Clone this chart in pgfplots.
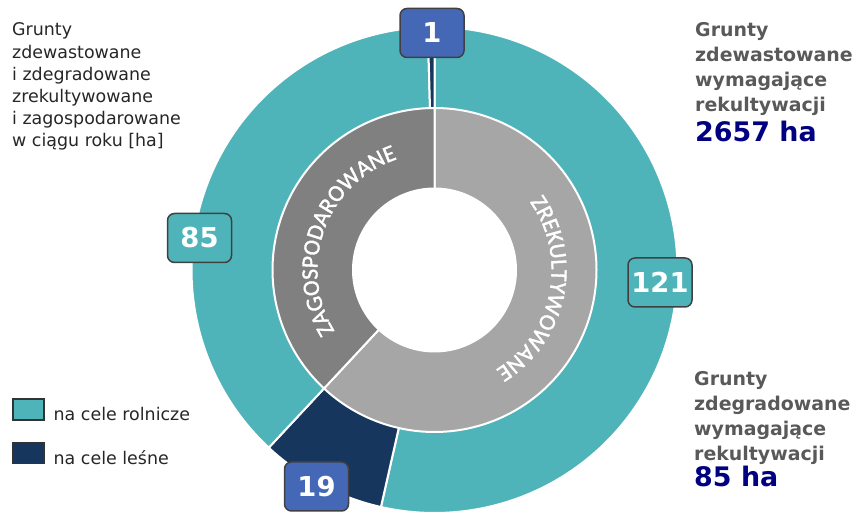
\documentclass[border=0pt]{standalone}
\usepackage{pgfplots}
\pgfplotsset{compat=1.18}
\usepackage{pgfplotstable}
\usepackage{fontspec}
\setmainfont{DejaVu Sans}
\newfontfamily\curvefont[LetterSpace=4, FakeBold=1.5]{Carlito}
\usetikzlibrary{decorations.text}
\definecolor{cteal}{HTML}{4FB4B9}
\definecolor{cnavy}{HTML}{17365D}
\definecolor{clight}{HTML}{A6A6A6}
\definecolor{cdark}{HTML}{808080}
\definecolor{cbox}{HTML}{4468B6}
\definecolor{ctxt}{HTML}{595959}
\definecolor{cnum}{HTML}{000080}
\definecolor{cleft}{HTML}{262626}

\pgfplotstableread{
segment value
rolnicze 121
lesne 19
rolnicze 85
lesne 1
}\outerdata
\pgfplotstableread{
segment value
zrekultywowane 140
zagospodarowane 86
}\innerdata

\begin{document}
\begin{tikzpicture}
\pgfplotstablegetelem{0}{value}\of\outerdata \let\oA\pgfplotsretval
\pgfplotstablegetelem{1}{value}\of\outerdata \let\oB\pgfplotsretval
\pgfplotstablegetelem{2}{value}\of\outerdata \let\oC\pgfplotsretval
\pgfplotstablegetelem{3}{value}\of\outerdata \let\oD\pgfplotsretval
\pgfplotstablegetelem{0}{value}\of\innerdata \let\iA\pgfplotsretval
\pgfplotstablegetelem{1}{value}\of\innerdata \let\iB\pgfplotsretval
\pgfmathsetmacro\otot{\oA+\oB+\oC+\oD}
\pgfmathsetmacro\eA{360*(\oA/\otot)}
\pgfmathsetmacro\eB{360*((\oA+\oB)/\otot)}
\pgfmathsetmacro\eC{360*((\oA+\oB+\oC)/\otot)}
\pgfmathsetmacro\itot{\iA+\iB}
\pgfmathsetmacro\fA{360*(\iA/\itot)}
\tikzset{valbox/.style={draw=black!75, line width=1.5bp, rounded corners=7bp,
  minimum width=64bp, minimum height=49bp, inner sep=0pt, text=white,
  font=\bfseries\fontsize{27.5}{27.5}\selectfont},
  lt/.style={anchor=base west, inner sep=0pt, text=cleft, font=\fontsize{17.5}{21}\selectfont},
  rt/.style={anchor=base west, inner sep=0pt, text=ctxt, font=\bfseries\fontsize{19}{21}\selectfont},
  rn/.style={anchor=base west, inner sep=0pt, text=cnum, font=\bfseries\fontsize{27}{27}\selectfont}}
\begin{axis}[width=862bp, height=514bp, scale only axis, hide axis,
  xmin=-434.5, xmax=427.5, ymin=-244, ymax=270, clip=false,
  legend image code/.code={\draw[#1, draw=black!80, line width=1.5bp] (0bp,-5.5bp) rectangle (31bp,15.5bp);},
  legend style={at={(axis cs:-422.5,-128)}, anchor=north west, draw=none, fill=none,
    inner sep=0pt, row sep=18bp, font=\fontsize{17.5}{21}\selectfont, text=cleft,
    /tikz/every odd column/.append style={column sep=7bp}},
  legend cell align=left]
% outer ring
\addplot[forget plot, fill=cteal, draw=white, line width=2bp, domain=0:\eA, samples=150]
  ({243*sin(x)},{243*cos(x)}) -- (axis cs:0,0) -- cycle;
\addplot[forget plot, fill=cnavy, draw=white, line width=2bp, domain=\eA:\eB, samples=40]
  ({243*sin(x)},{243*cos(x)}) -- (axis cs:0,0) -- cycle;
\addplot[forget plot, fill=cteal, draw=white, line width=2bp, domain=\eB:\eC, samples=120]
  ({243*sin(x)},{243*cos(x)}) -- (axis cs:0,0) -- cycle;
\addplot[forget plot, fill=cnavy, draw=white, line width=2bp, domain=\eC:360, samples=5]
  ({243*sin(x)},{243*cos(x)}) -- (axis cs:0,0) -- cycle;
% inner ring
\addplot[forget plot, fill=clight, draw=white, line width=2bp, domain=0:\fA, samples=150]
  ({162*sin(x)},{162*cos(x)}) -- (axis cs:0,0) -- cycle;
\addplot[forget plot, fill=cdark, draw=white, line width=2bp, domain=\fA:360, samples=120]
  ({162*sin(x)},{162*cos(x)}) -- (axis cs:0,0) -- cycle;
% hole
\addplot[forget plot, fill=white, draw=none, domain=0:360, samples=150]
  ({82.5*sin(x)},{82.5*cos(x)}) -- cycle;
% legend
\addlegendimage{fill=cteal}
\addlegendentry{na cele rolnicze}
\addlegendimage{fill=cnavy}
\addlegendentry{na cele leśne}
% curved texts
\path[decorate, decoration={text along path, text align=center, text color=white,
  text={|\curvefont\fontsize{23.5}{23.5}\selectfont|ZREKULTYWOWANE}}]
  (axis cs:{117*cos(58.5)},{117*sin(58.5)}) arc[start angle=58.5, end angle=-81.5, radius=117bp];
\path[decorate, decoration={text along path, text align=center, text color=white,
  text={|\curvefont\fontsize{23.5}{23.5}\selectfont|ZAGOSPODAROWANE}}]
  (axis cs:{117*cos(230)},{117*sin(230)}) arc[start angle=230, end angle=90, radius=117bp];
% value boxes
\node[valbox, fill=cbox] at (axis cs:-2.5,237) {1};
\node[valbox, fill=cteal] at (axis cs:-235,32) {85};
\node[valbox, fill=cteal] at (axis cs:225.5,-12.5) {121};
\node[valbox, fill=cbox] at (axis cs:-118,-216.5) {19};
% left text
\node[lt] at (axis cs:-422.5,234) {Grunty};
\node[lt] at (axis cs:-422.5,211.8) {zdewastowane};
\node[lt] at (axis cs:-422.5,189.7) {i zdegradowane};
\node[lt] at (axis cs:-422.5,167.5) {zrekultywowane};
\node[lt] at (axis cs:-422.5,145.4) {i zagospodarowane};
\node[lt] at (axis cs:-422.5,123.2) {w ciągu roku [ha]};
% right top
\node[rt] at (axis cs:260.5,233.3) {Grunty};
\node[rt] at (axis cs:260.5,208.3) {zdewastowane};
\node[rt] at (axis cs:260.5,183.3) {wymagające};
\node[rt] at (axis cs:260.5,158.3) {rekultywacji};
\node[rn] at (axis cs:260.5,128.3) {2657 ha};
% right bottom
\node[rt] at (axis cs:259.5,-116) {Grunty};
\node[rt] at (axis cs:259.5,-141) {zdegradowane};
\node[rt] at (axis cs:259.5,-166) {wymagające};
\node[rt] at (axis cs:259.5,-191) {rekultywacji};
\node[rn] at (axis cs:259.5,-216.7) {85 ha};
\end{axis}
\pgfresetboundingbox
\useasboundingbox (current axis.south west) rectangle (current axis.north east);
\end{tikzpicture}
\end{document}
